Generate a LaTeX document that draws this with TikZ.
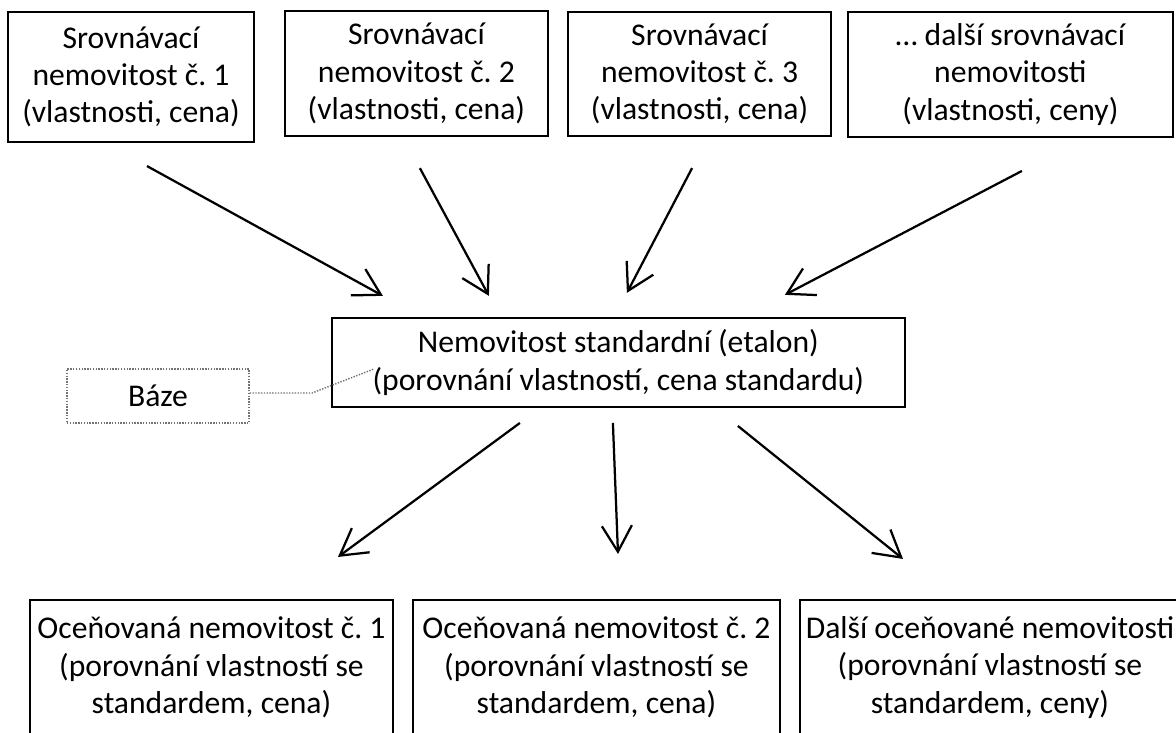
\documentclass[tikz,border=0pt]{standalone}
\usepackage{fontspec}
\setmainfont{Carlito}
\frenchspacing
\usetikzlibrary{arrows.meta}

\tikzset{
  box/.style={draw, line width=1.5pt, align=center, inner sep=0pt,
    font=\fontsize{22.5}{26.5}\selectfont},
  basebox/.style={draw=black!55, densely dotted, line width=1pt, inner sep=0pt,
    font=\fontsize{22.5}{26.5}\selectfont},
  arr/.style={line width=1.6pt, -{Straight Barb[length=6.5mm,width=7.5mm,line width=1.6pt]}}
}

\begin{document}
\begin{tikzpicture}
    \clip (0,0) rectangle (29.4,-18.325);
    \fill[white] (0,0) rectangle (29.4,-18.325);
    \node[box, minimum width=6.15cm, minimum height=3.25cm] (s1) at (3.275,-1.925)
      {Srovnávací\\nemovitost č. 1\\(vlastnosti, cena)};
    \node[box, minimum width=6.575cm, minimum height=3.125cm] (s2) at (10.41,-1.84)
      {Srovnávací\\nemovitost č. 2\\(vlastnosti, cena)};
    \node[box, minimum width=6.575cm, minimum height=3.1cm] (s3) at (17.49,-1.85)
      {Srovnávací\\nemovitost č. 3\\(vlastnosti, cena)};
    \node[box, minimum width=8.125cm, minimum height=3.125cm] (s4) at (25.26,-1.86)
      {… další srovnávací\\nemovitosti\\(vlastnosti, ceny)};
    \node[box, minimum width=14.325cm, minimum height=2.225cm] (etalon) at (15.46,-9.06)
      {Nemovitost standardní (etalon)\\(porovnání vlastností, cena standardu)};
    \node[basebox, minimum width=4.55cm, minimum height=1.35cm] (baze) at (3.95,-9.9) {\textcolor{black}{Báze}};
    \node[box, minimum width=9.075cm, minimum height=3.375cm] (o1) at (5.2875,-16.6875)
      {Oceňovaná nemovitost č. 1\\(porovnání vlastností se\\standardem, cena)};
    \node[box, minimum width=9.175cm, minimum height=3.375cm] (o2) at (14.9125,-16.6875)
      {Oceňovaná nemovitost č. 2\\(porovnání vlastností se\\standardem, cena)};
    \node[box, minimum width=9.5cm, minimum height=3.375cm] (o3) at (24.75,-16.6875)
      {Další oceňované nemovitosti\\(porovnání vlastností se\\standardem, ceny)};
    \coordinate (bazebend) at (7.8,-9.825);
    \coordinate (bazetip) at (9.35,-9.225);
    \draw[black!55, densely dotted, line width=1pt] (baze.east |- bazebend) -- (bazebend) -- (bazetip);
    \draw[arr] ([shift={(0.4,-0.575)}]s1.south) -- ([shift={(-5.8875,0.525)}]etalon.north);
    \draw[arr] ([shift={(0.0875,-0.775)}]s2.south) -- ([shift={(-3.2375,0.525)}]etalon.north);
    \draw[arr] ([shift={(-0.1875,-0.775)}]s3.south) -- ([shift={(0.2125,0.6)}]etalon.north);
    \draw[arr] ([shift={(0.2875,-0.825)}]s4.south) -- ([shift={(4.1625,0.55)}]etalon.north);
    \draw[arr] ([shift={(-2.4625,-0.375)}]etalon.south) -- ([shift={(3.1625,1.05)}]o1.north);
    \draw[arr] ([shift={(-0.1375,-0.375)}]etalon.south) -- ([shift={(0.5375,1.125)}]o2.north);
    \draw[arr] ([shift={(2.9875,-0.45)}]etalon.south) -- ([shift={(-2.175,1.0)}]o3.north);
  \end{tikzpicture}
\end{document}
